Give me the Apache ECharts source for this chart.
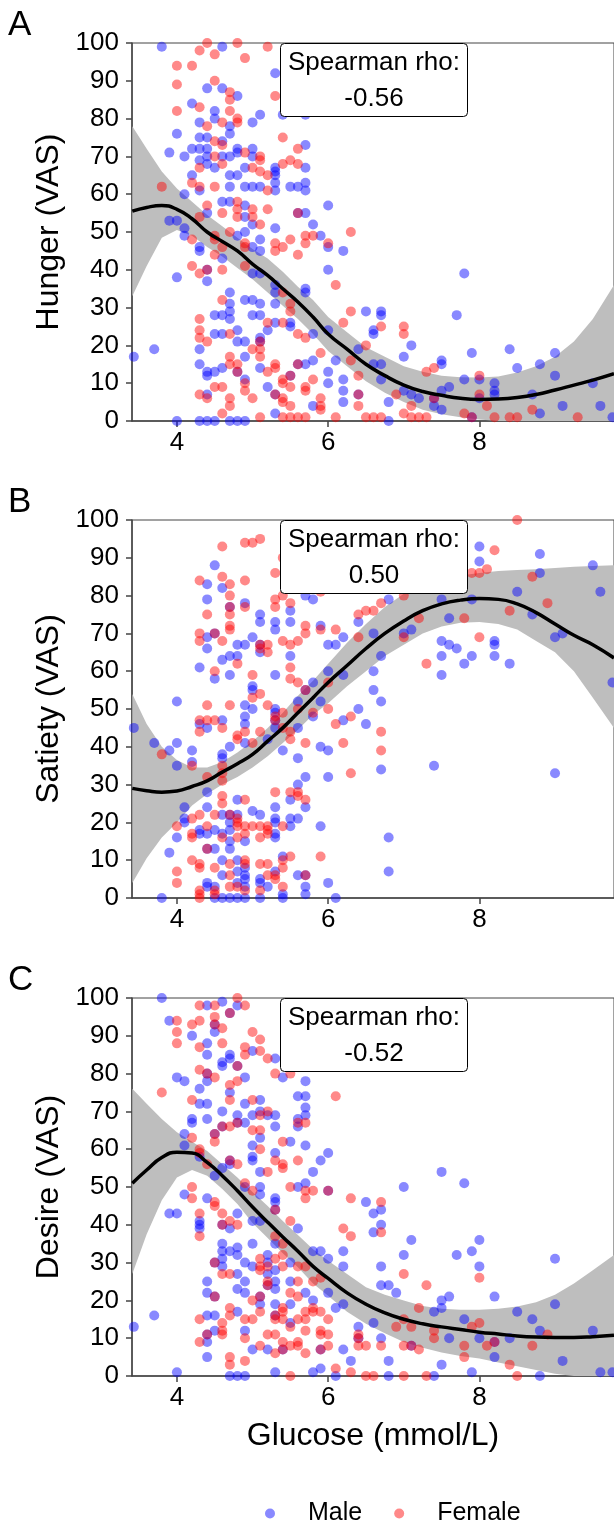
<!DOCTYPE html>
<html>
<head>
<meta charset="utf-8">
<script src="https://cdn.jsdelivr.net/npm/echarts@6/dist/echarts.min.js"></script>
<style>
  html, body { margin: 0; padding: 0; background: #fff; }
  #chart { width: 614px; height: 1521px; }
</style>
</head>
<body>
<div id="chart"></div>
<script>
// ------------------------------
// Data
// ------------------------------
var xTickValues = [4, 6, 8];
var panelLetters = ['A', 'B', 'C'];
var panelTitles = ['Hunger (VAS)', 'Satiety (VAS)', 'Desire (VAS)'];
var rhoValues = ['-0.56', '0.50', '-0.52'];

// smoother evaluated on a glucose grid
var curveGlucose = [3.41, 3.6, 3.8, 4.0, 4.2, 4.4, 4.6, 4.8, 5.0, 5.2, 5.4, 5.6, 5.8, 6.0, 6.25, 6.5, 6.75, 7.0, 7.25, 7.5, 7.75, 8.0, 8.25, 8.5, 8.75, 9.0, 9.25, 9.5, 9.78];

var hungerFit   = [55.5, 56.5, 57, 56, 53.5, 50, 47.5, 45, 41.5, 38.5, 35, 31.5, 27.5, 23, 19, 15, 12, 9.5, 7.8, 6.8, 6, 5.7, 5.8, 6.2, 7, 8.2, 9.5, 10.8, 12.5];
var hungerLower = [33, 41, 48.5, 50.5, 49, 46, 43.5, 40.5, 37.5, 34, 30.5, 27, 23, 18.5, 14.5, 10.5, 7.5, 5, 3, 1.8, 1, 0.4, 0, 0, 0, 0, 0, 0, 0];
var hungerUpper = [78, 72, 66, 61.5, 58, 54.5, 51.5, 48.5, 45.5, 43, 39.5, 35.5, 32, 27.5, 23.5, 19.5, 17, 14.5, 13, 12, 11.6, 11.5, 11.8, 12.8, 14.5, 17, 21, 27, 36];

var satietyFit   = [29, 28.4, 28, 28.3, 29.5, 31, 33.3, 35.5, 38, 41.5, 45, 49, 53, 57, 61.5, 66, 70, 73.3, 76, 77.8, 78.8, 79.2, 79, 77.8, 75.5, 72.5, 69.5, 67, 63.5];
var satietyLower = [4, 10.5, 16, 20, 24.5, 27.5, 30, 32, 34.5, 37.5, 41, 44.5, 48.5, 51.5, 56, 60, 64, 67, 70, 71.8, 72.8, 73, 72.5, 71, 68, 65, 60, 53, 45];
var satietyUpper = [54, 46, 40, 36.5, 34.5, 34.5, 36, 38.5, 41.5, 45, 49, 53.5, 57.5, 62, 67.5, 72.5, 77, 80.5, 83, 84.5, 85.3, 86, 86.5, 86.8, 87, 87.3, 87.6, 87.8, 88];

var desireFit   = [51, 54.5, 57.8, 59.2, 59, 56.5, 53, 49, 44.7, 40.7, 36.8, 33, 29, 25.8, 22, 19, 16.7, 15, 13.8, 13, 12.3, 11.6, 11.1, 10.6, 10.3, 10.2, 10.2, 10.4, 10.8];
var desireLower = [27, 37.5, 46.5, 52.5, 54.5, 53, 49.5, 45.5, 40.5, 36.5, 32.5, 28.8, 24.5, 21.2, 17, 13.8, 11.3, 9, 7.5, 6.2, 5.3, 4.6, 3.6, 2.6, 1.6, 0.6, 0, 0, 0];
var desireUpper = [76, 72, 68, 64.5, 62, 59.5, 56, 52.5, 48.7, 45, 41, 37.3, 33.5, 30.5, 27, 23.5, 21.5, 20, 18.5, 17.8, 17.5, 17.5, 17.8, 18.4, 19.5, 21.5, 24.5, 28, 32];

// [glucose, score]
var hungerMale = [
  [3.43,17],[3.7,19],[3.8,99],[3.9,53],[3.9,71],[4.0,53],[4.0,38],[4.0,0],[4.0,76],[4.1,70],[4.1,60],[4.1,51],[4.1,49],
  [4.2,84],[4.2,72],[4.2,65],
  [4.3,79],[4.3,75],[4.3,72],[4.3,69],[4.3,61],[4.3,45],[4.3,46],[4.3,19],[4.3,15],[4.3,0],
  [4.4,88],[4.4,75],[4.4,72],[4.4,70],[4.4,68],[4.4,55],[4.4,40],[4.4,37],[4.4,7],[4.4,12],[4.4,13],[4.4,0],
  [4.5,82],[4.5,80],[4.5,67],[4.5,28],[4.5,23],[4.5,13],[4.5,0],
  [4.6,99],[4.6,88],[4.6,74],[4.6,70],[4.6,58],[4.6,43],[4.6,28],[4.6,23],[4.6,14],
  [4.7,78],[4.7,76],[4.7,70],[4.7,65],[4.7,62],[4.7,58],[4.7,34],[4.7,31],[4.7,29],[4.7,27],[4.7,0],
  [4.8,86],[4.8,72],[4.8,71],[4.8,65],[4.8,49],[4.8,24],[4.8,21],[4.8,13],[4.8,0],
  [4.9,67],[4.9,62],[4.9,57],[4.9,54],[4.9,50],[4.9,32],[4.9,21],[4.9,17],[4.9,11],[4.9,0],
  [5.0,79],[5.0,72],[5.0,70],[5.0,62],[5.0,52],[5.0,46],[5.0,39],[5.0,32],[5.0,28],
  [5.1,81],[5.1,62],[5.1,48],[5.1,45],[5.1,39],[5.1,31],[5.1,28],[5.1,21],[5.1,22],[5.1,14],
  [5.2,24],[5.2,9],
  [5.3,92],[5.3,67],[5.3,66],[5.3,65],[5.3,63],[5.3,61],[5.3,51],[5.3,36],[5.3,31],[5.3,34],[5.3,26],[5.3,7],[5.3,2],
  [5.4,81],[5.5,62],[5.5,26],[5.5,25],[5.5,12],[5.6,62],[5.6,55],[5.6,15],
  [5.7,81],[5.7,73],[5.7,67],[5.7,63],[5.7,61],[5.7,55],[5.7,35],[5.7,34],[5.7,15],
  [5.8,52],[5.8,23],[5.8,16],[5.8,4],[5.9,49],
  [6.0,57],[6.0,46],[6.0,40],[6.0,24],[6.0,13],[6.0,10],[6.1,16],
  [6.2,45],[6.2,11],[6.2,8],[6.2,5],[6.4,19],[6.4,7],[6.5,29],
  [6.6,24],[6.6,23],[6.6,15],[6.7,29],[6.7,28],[6.7,15],[6.7,11],[6.8,5],[6.8,0],
  [7.0,17],[7.0,8],[7.1,20],[7.1,7],[7.2,6],[7.4,6],[7.4,4],
  [7.5,16],[7.5,15],[7.5,8],[7.5,3],[7.6,9],[7.7,28],[7.8,39],[7.8,11],[7.9,18],[7.9,1],
  [8.0,11],[8.0,6],[8.2,10],[8.2,8],[8.2,7],[8.4,19],[8.5,14],[8.7,7],[8.8,15],[8.8,2],
  [9.0,18],[9.0,12],[9.1,4],[9.5,10],[9.6,4],[9.76,1]
];
var hungerFemale = [
  [3.8,62],[4.0,94],[4.0,89],[4.0,82],
  [4.2,94],[4.2,63],[4.2,48],[4.2,41],
  [4.3,98],[4.3,83],[4.3,67],[4.3,62],[4.3,54],[4.3,39],[4.3,27],[4.3,24],[4.3,22],[4.3,7],
  [4.4,100],[4.4,78],[4.4,57],[4.4,40],[4.4,21],[4.4,6],
  [4.5,97],[4.5,90],[4.5,74],[4.5,70],[4.5,62],[4.5,49],[4.5,48],[4.5,44],[4.5,9],
  [4.6,79],[4.6,73],[4.6,68],[4.6,55],[4.6,46],[4.6,40],[4.6,32],[4.6,9],[4.6,2],
  [4.7,87],[4.7,85],[4.7,82],[4.7,50],[4.7,23],[4.7,17],[4.7,15],[4.7,6],[4.7,4],
  [4.8,100],[4.8,80],[4.8,79],[4.8,58],[4.8,56],[4.8,54],[4.8,15],[4.8,13],
  [4.9,96],[4.9,71],[4.9,47],[4.9,46],[4.9,41],[4.9,10],[4.9,8],
  [5.0,67],[5.0,56],[5.0,54],[5.0,19],[5.0,6],
  [5.1,70],[5.1,69],[5.1,66],[5.1,52],[5.1,21],[5.1,19],[5.1,17],[5.1,1],
  [5.2,99],[5.2,65],[5.2,61],[5.2,56],[5.2,26],[5.2,13],
  [5.3,86],[5.3,47],[5.3,45],[5.3,15],[5.3,14],[5.3,7],
  [5.4,75],[5.4,68],[5.4,46],[5.4,34],[5.4,26],[5.4,11],[5.4,10],[5.4,6],[5.4,5],[5.4,1],
  [5.5,69],[5.5,48],[5.5,31],[5.5,29],[5.5,12],[5.5,9],[5.5,4],[5.5,1],
  [5.6,72],[5.6,68],[5.6,55],[5.6,44],[5.6,23],[5.6,15],[5.6,1],
  [5.7,49],[5.7,47],[5.7,22],[5.7,9],[5.7,8],[5.7,1],[5.8,49],[5.8,11],
  [5.9,18],[5.9,6],[5.9,3],[5.9,4],[6.0,47],[6.1,36],[6.1,1],[6.2,26],
  [6.3,50],[6.3,29],[6.3,16],[6.4,12],[6.4,7],[6.4,4],[6.5,20],[6.5,1],[6.6,1],
  [6.7,25],[6.7,1],[6.9,7],[7.0,25],[7.0,23],[7.0,2],[7.1,4],[7.1,1],[7.2,1],
  [7.3,13],[7.3,1],[7.4,14],[7.4,6],[7.8,2],[7.9,1],[8.0,12],[8.0,7],[8.1,4],
  [8.2,1],[8.4,1],[8.5,1],[8.7,3],[9.3,1]
];

var satietyMale = [
  [3.43,45],[3.7,41],[3.9,39],[4.0,41],[4.0,52],[4.0,35],[3.9,12],[3.8,0],[4.0,16],
  [4.1,24],[4.1,21],[4.1,20],[4.2,39],[4.2,36],
  [4.3,61],[4.3,46],[4.3,18],[4.3,17],
  [4.4,83],[4.4,79],[4.4,69],[4.4,66],[4.4,45],[4.4,28],[4.4,24],[4.4,17],[4.4,13],[4.4,4],[4.4,3],
  [4.5,88],[4.5,70],[4.5,58],[4.5,18],[4.5,13],[4.5,3],[4.5,0],
  [4.6,82],[4.6,63],[4.6,47],[4.6,38],[4.6,37],[4.6,22],[4.6,17],[4.6,10],[4.6,6],[4.6,0],
  [4.7,77],[4.7,64],[4.7,59],[4.7,40],[4.7,22],[4.7,20],[4.7,18],[4.7,15],[4.7,13],[4.7,0],
  [4.8,67],[4.8,64],[4.8,26],[4.8,22],[4.8,10],[4.8,7],[4.8,4],[4.8,0],
  [4.9,78],[4.9,67],[4.9,51],[4.9,48],[4.9,46],[4.9,41],[4.9,15],[4.9,8],[4.9,6],[4.9,5],[4.9,3],[4.9,0],
  [5.0,69],[5.0,56],[5.0,55],[5.0,50],[5.0,23],
  [5.1,75],[5.1,73],[5.1,67],[5.1,65],[5.1,22],[5.1,5],[5.1,4],[5.1,0],
  [5.2,42],[5.2,3],
  [5.3,73],[5.3,71],[5.3,59],[5.3,50],[5.3,49],[5.3,47],[5.3,45],[5.3,24],[5.3,21],[5.3,20],[5.3,17],[5.3,16],[5.3,7],
  [5.4,39],[5.4,11],[5.4,1],[5.4,0],
  [5.5,76],[5.5,73],[5.5,64],[5.5,26],[5.5,21],[5.5,19],
  [5.6,52],[5.6,45],[5.6,37],[5.6,30],[5.6,21],[5.6,6],
  [5.7,80],[5.7,55],[5.7,32],[5.7,24],[5.7,6],[5.7,3],[5.7,1],
  [5.8,79],[5.8,57],[5.8,48],[5.9,72],[5.9,52],[5.9,40],[5.9,19],
  [6.0,67],[6.0,60],[6.0,39],[6.0,32],[6.0,4],[6.1,67],[6.1,0],
  [6.2,69],[6.2,59],[6.2,47],[6.4,73],[6.4,50],[6.5,46],
  [6.6,70],[6.6,60],[6.6,55],[6.7,64],[6.7,52],[6.7,34],[6.8,79],[6.8,16],[6.8,7],
  [7.0,70],[7.1,71],[7.4,35],[7.5,79],[7.5,68],[7.5,64],[7.5,59],[7.6,74],[7.6,67],
  [7.7,66],[7.8,62],[7.9,79],[7.9,64],[8.0,93],[8.0,89],[8.2,68],[8.2,67],[8.2,64],
  [8.4,62],[8.5,81],[8.7,75],[8.8,91],[8.8,86],[9.0,69],[9.0,33],[9.1,70],
  [9.5,88],[9.6,81],[9.76,57]
];
var satietyFemale = [
  [3.8,38],[4.0,7],[4.0,4],[4.0,19],
  [4.2,21],[4.2,17],[4.2,16],[4.2,10],[4.2,35],
  [4.3,84],[4.3,70],[4.3,68],[4.3,44],[4.3,47],[4.3,22],[4.3,8],[4.3,9],[4.3,2],[4.3,1],[4.3,0],
  [4.4,75],[4.4,47],[4.4,51],[4.4,32],[4.4,19],[4.4,13],
  [4.5,70],[4.5,60],[4.5,47],[4.5,22],[4.5,8],[4.5,2],[4.5,1],
  [4.6,93],[4.6,85],[4.6,68],[4.6,45],[4.6,35],[4.6,33],[4.6,31],[4.6,27],[4.6,25],[4.6,16],
  [4.7,83],[4.7,80],[4.7,77],[4.7,75],[4.7,72],[4.7,71],[4.7,51],[4.7,22],[4.7,9],[4.7,6],[4.7,3],
  [4.8,62],[4.8,43],[4.8,42],[4.8,21],[4.8,20],[4.8,19],[4.8,16],[4.8,3],
  [4.9,94],[4.9,84],[4.9,77],[4.9,44],[4.9,26],[4.9,19],[4.9,17],[4.9,10],[4.9,9],[4.9,2],
  [5.0,94],[5.0,59],[5.0,53],[5.0,41],[5.0,19],
  [5.1,95],[5.1,67],[5.1,66],[5.1,54],[5.1,44],[5.1,19],[5.1,16],[5.1,9],[5.1,2],
  [5.2,67],[5.2,65],[5.2,51],[5.2,19],[5.2,18],[5.2,17],[5.2,9],[5.2,6],
  [5.3,86],[5.3,79],[5.3,77],[5.3,48],[5.3,47],[5.3,28],[5.3,6],[5.3,5],
  [5.4,90],[5.4,80],[5.4,68],[5.4,49],[5.4,45],[5.4,19],[5.4,10],[5.4,8],[5.4,3],
  [5.5,78],[5.5,67],[5.5,61],[5.5,58],[5.5,44],[5.5,42],[5.5,28],[5.5,11],
  [5.6,68],[5.6,57],[5.6,50],[5.6,28],[5.6,27],
  [5.7,72],[5.7,70],[5.7,55],[5.7,41],[5.7,26],[5.7,6],[5.8,49],
  [5.9,81],[5.9,71],[5.9,11],[6.0,57],[6.0,50],[6.1,71],[6.1,46],[6.2,41],
  [6.3,48],[6.3,33],[6.4,75],[6.4,69],[6.5,76],[6.6,76],[6.7,78],[6.7,44],[6.7,39],
  [7.0,80],[7.0,69],[7.2,74],[7.3,62],[7.8,74],[7.9,86],[8.0,86],[8.0,69],
  [8.1,87],[8.2,92],[8.4,76],[8.5,100],[8.7,85],[8.9,78]
];

var desireMale = [
  [3.43,13],[3.7,16],[3.8,100],[3.9,94],[3.9,43],[4.0,43],[4.0,79],[4.0,1],
  [4.1,78],[4.1,64],[4.1,61],[4.1,48],[4.2,90],[4.2,68],[4.2,67],
  [4.3,76],[4.3,72],[4.3,58],[4.3,41],[4.3,40],[4.3,39],
  [4.4,98],[4.4,88],[4.4,85],[4.4,80],[4.4,78],[4.4,72],[4.4,68],[4.4,47],[4.4,25],[4.4,22],[4.4,16],[4.4,11],[4.4,9],[4.4,5],
  [4.5,93],[4.5,91],[4.5,64],[4.5,53],[4.5,30],[4.5,21],[4.5,16],[4.5,12],
  [4.6,99],[4.6,83],[4.6,82],[4.6,70],[4.6,66],[4.6,55],[4.6,40],[4.6,35],[4.6,33],[4.6,31],[4.6,29],
  [4.7,96],[4.7,85],[4.7,84],[4.7,75],[4.7,57],[4.7,56],[4.7,39],[4.7,33],[4.7,0],
  [4.8,98],[4.8,82],[4.8,69],[4.8,67],[4.8,43],[4.8,34],[4.8,32],[4.8,27],[4.8,23],[4.8,17],[4.8,0],
  [4.9,79],[4.9,72],[4.9,67],[4.9,50],[4.9,30],[4.9,25],[4.9,22],[4.9,12],[4.9,0],
  [5.0,86],[5.0,69],[5.0,61],[5.0,58],[5.0,57],[5.0,41],[5.0,35],[5.0,29],[5.0,7],
  [5.1,73],[5.1,70],[5.1,63],[5.1,54],[5.1,50],[5.1,48],[5.1,41],[5.1,21],[5.1,19],
  [5.2,69],[5.2,32],[5.2,30],[5.2,27],[5.2,24],[5.2,7],
  [5.3,84],[5.3,69],[5.3,66],[5.3,59],[5.3,47],[5.3,46],[5.3,44],[5.3,35],[5.3,28],[5.3,25],[5.3,23],[5.3,19],[5.3,16],[5.3,1],
  [5.4,79],[5.4,7],[5.5,62],[5.5,30],[5.5,25],[5.5,19],[5.5,14],
  [5.6,74],[5.6,68],[5.6,66],[5.6,50],[5.6,39],
  [5.7,78],[5.7,74],[5.7,71],[5.7,69],[5.7,61],[5.7,51],[5.7,22],
  [5.8,54],[5.8,33],[5.8,20],[5.8,1],[5.9,57],[5.9,33],[5.9,7],[5.9,2],
  [6.0,59],[6.0,49],[6.0,31],[6.0,22],[6.1,18],[6.1,0],
  [6.2,33],[6.2,29],[6.2,19],[6.2,7],[6.3,4],[6.4,13],[6.4,10],[6.5,46],
  [6.6,43],[6.6,38],[6.6,14],[6.7,44],[6.7,40],[6.7,29],[6.7,24],[6.7,10],
  [6.8,24],[6.8,4],[6.8,0],[6.9,22],[7.0,50],[7.0,32],[7.1,36],[7.1,8],
  [7.4,17],[7.4,0],[7.5,54],[7.5,20],[7.5,18],[7.5,3],[7.6,21],[7.6,10],[7.7,32],
  [7.8,51],[7.8,15],[7.9,33],[7.9,1],[8.0,36],[8.0,29],[8.0,10],
  [8.2,21],[8.2,9],[8.2,5],[8.4,10],[8.5,17],[8.7,15],[8.8,12],[8.8,0],
  [9.0,31],[9.0,19],[9.1,4],[9.5,12],[9.6,1],[9.76,1]
];
var desireFemale = [
  [3.8,75],[4.0,94],[4.0,91],[4.0,88],
  [4.2,93],[4.2,73],[4.2,63],[4.2,50],[4.2,47],
  [4.3,98],[4.3,94],[4.3,87],[4.3,81],[4.3,60],[4.3,59],[4.3,43],[4.3,37],[4.3,15],[4.3,9],
  [4.4,80],[4.4,56],[4.4,11],
  [4.5,98],[4.5,95],[4.5,93],[4.5,79],[4.5,64],[4.5,62],[4.5,46],[4.5,45],[4.5,30],[4.5,21],
  [4.6,92],[4.6,88],[4.6,66],[4.6,43],[4.6,40],[4.6,27],[4.6,14],[4.6,12],[4.6,11],
  [4.7,96],[4.7,77],[4.7,73],[4.7,66],[4.7,57],[4.7,41],[4.7,27],[4.7,18],[4.7,16],[4.7,5],[4.7,3],
  [4.8,100],[4.8,82],[4.8,78],[4.8,67],[4.8,56],[4.8,40],
  [4.9,98],[4.9,87],[4.9,85],[4.9,51],[4.9,15],[4.9,10],[4.9,4],
  [5.0,91],[5.0,73],[5.0,65],[5.0,49],[5.0,20],[5.0,15],
  [5.1,89],[5.1,86],[5.1,69],[5.1,65],[5.1,60],[5.1,31],[5.1,29],[5.1,28],[5.1,17],[5.1,8],[5.1,21],
  [5.2,84],[5.2,70],[5.2,54],[5.2,29],[5.2,25],[5.2,24],[5.2,11],
  [5.3,80],[5.3,57],[5.3,44],[5.3,37],[5.3,31],[5.3,16],[5.3,15],[5.3,11],[5.3,6],
  [5.4,62],[5.4,56],[5.4,55],[5.4,35],[5.4,32],[5.4,29],[5.4,18],[5.4,17],[5.4,15],[5.4,9],[5.4,7],
  [5.5,80],[5.5,50],[5.5,41],[5.5,22],[5.5,13],[5.5,8],[5.5,0],
  [5.6,67],[5.6,57],[5.6,29],[5.6,25],[5.6,21],[5.6,15],[5.6,9],[5.6,8],
  [5.7,67],[5.7,49],[5.7,47],[5.7,29],[5.7,17],[5.7,15],[5.7,12],[5.7,6],
  [5.8,49],[5.8,25],[5.8,18],[5.8,17],[5.9,26],[5.9,17],[5.9,11],[5.9,12],[5.9,7],
  [6.0,49],[6.0,15],[6.0,11],[6.0,8],[6.1,74],[6.1,2],[6.2,39],
  [6.3,47],[6.3,37],[6.3,1],[6.4,11],[6.4,10],[6.4,8],[6.5,8],[6.5,0],[6.6,0],
  [6.7,46],[6.7,38],[6.7,8],[6.9,13],[7.0,27],[7.0,15],[7.0,8],[7.0,0],
  [7.1,13],[7.1,8],[7.2,18],[7.2,7],[7.3,24],[7.3,0],[7.4,12],[7.4,10],
  [7.8,8],[7.8,5],[7.9,13],[8.0,26],[8.0,14],[8.1,8],[8.2,9],[8.4,3],[8.5,0],
  [8.7,8],[8.9,11]
];

// ------------------------------
// Chart
// ------------------------------
var chart = echarts.init(document.getElementById('chart'));

var fontFamily = "'Liberation Sans', Arial, sans-serif";
var maleColor = 'rgba(0, 0, 255, 0.58)';
var femaleColor = 'rgba(255, 0, 0, 0.58)';
var axisColor = '#444';
var gridTops = [43, 520, 998];
var gridHeight = 378;

var panels = [
    { male: hungerMale, female: hungerFemale, fit: hungerFit, lower: hungerLower, upper: hungerUpper },
    { male: satietyMale, female: satietyFemale, fit: satietyFit, lower: satietyLower, upper: satietyUpper },
    { male: desireMale, female: desireFemale, fit: desireFit, lower: desireLower, upper: desireUpper }
];

var grids = [], xAxes = [], yAxes = [], series = [], graphics = [];

panels.forEach(function (p, i) {
    grids.push({ left: 132, right: -1, top: gridTops[i], height: gridHeight, show: true, borderColor: axisColor, borderWidth: 1 });

    xAxes.push({
        type: 'value', gridIndex: i, min: 3.406, max: 9.78,
        splitLine: { show: false },
        axisLine: { lineStyle: { color: axisColor, width: 1.5 } },
        axisTick: { length: 6, customValues: xTickValues, lineStyle: { color: axisColor, width: 1.5 } },
        axisLabel: { customValues: xTickValues, color: '#000', fontSize: 26, fontFamily: fontFamily, margin: 9 },
        name: i === 2 ? 'Glucose (mmol/L)' : '',
        nameLocation: 'middle', nameGap: 44,
        nameTextStyle: { color: '#000', fontSize: 32, fontFamily: fontFamily }
    });

    yAxes.push({
        type: 'value', gridIndex: i, min: 0, max: 100, interval: 10,
        splitLine: { show: false },
        axisLine: { show: true, lineStyle: { color: axisColor, width: 1.5 } },
        axisTick: { show: true, length: 6, lineStyle: { color: axisColor, width: 1.5 } },
        axisLabel: { color: '#000', fontSize: 26, fontFamily: fontFamily, margin: 13 },
        name: panelTitles[i], nameLocation: 'middle', nameGap: 62,
        nameTextStyle: { color: '#000', fontSize: 32, fontFamily: fontFamily }
    });

    // confidence band of the smoother: one polygon, upper edge then lower edge back
    series.push({
        name: 'band' + i, type: 'custom', xAxisIndex: i, yAxisIndex: i, silent: true,
        data: curveGlucose.map(function (g, k) { return [g, p.lower[k], p.upper[k]]; }),
        encode: { x: 0, y: [1, 2] },
        renderItem: function (params, api) {
            if (params.dataIndex !== 0) return null;
            var pts = [];
            for (var k = 0; k < curveGlucose.length; k++) pts.push(api.coord([curveGlucose[k], p.upper[k]]));
            for (var k = curveGlucose.length - 1; k >= 0; k--) pts.push(api.coord([curveGlucose[k], p.lower[k]]));
            return { type: 'polygon', shape: { points: pts }, style: { fill: '#bebebe' } };
        }
    });
    series.push({
        name: 'Male', type: 'scatter', xAxisIndex: i, yAxisIndex: i,
        symbolSize: 10, itemStyle: { color: maleColor }, data: p.male
    });
    series.push({
        name: 'Female', type: 'scatter', xAxisIndex: i, yAxisIndex: i,
        symbolSize: 10, itemStyle: { color: femaleColor }, data: p.female
    });
    series.push({
        name: 'fit' + i, type: 'line', xAxisIndex: i, yAxisIndex: i,
        symbol: 'none', smooth: true, silent: true,
        lineStyle: { color: '#000', width: 3.5 },
        data: curveGlucose.map(function (g, k) { return [g, p.fit[k]]; })
    });

    // panel letter
    graphics.push({
        type: 'text', x: 8, y: gridTops[i] - 18,
        style: { text: panelLetters[i], fontSize: 35, fontFamily: fontFamily, fill: '#000', verticalAlign: 'middle' }
    });
    // Spearman box
    graphics.push({
        type: 'rect', z: 100,
        shape: { x: 280.5, y: gridTops[i] + 0.5, width: 187, height: 73, r: 4 },
        style: { fill: '#fff', stroke: '#000', lineWidth: 1 }
    });
    graphics.push({
        type: 'text', z: 101, x: 374, y: gridTops[i] + 20,
        style: { text: 'Spearman rho:', fontSize: 26, fontFamily: fontFamily, fill: '#000', align: 'center', verticalAlign: 'middle' }
    });
    graphics.push({
        type: 'text', z: 101, x: 374, y: gridTops[i] + 56,
        style: { text: rhoValues[i], fontSize: 26, fontFamily: fontFamily, fill: '#000', align: 'center', verticalAlign: 'middle' }
    });
});

var option = {
    animation: false,
    backgroundColor: '#fff',
    grid: grids,
    xAxis: xAxes,
    yAxis: yAxes,
    legend: {
        data: ['Male', 'Female'],
        left: 260, top: 1496,
        icon: 'circle', itemWidth: 10, itemHeight: 10, itemGap: 32,
        textStyle: { color: '#000', fontSize: 25, fontFamily: fontFamily, padding: [0, 0, 0, 28] }
    },
    graphic: graphics,
    series: series
};

chart.setOption(option);
</script>
</body>
</html>
